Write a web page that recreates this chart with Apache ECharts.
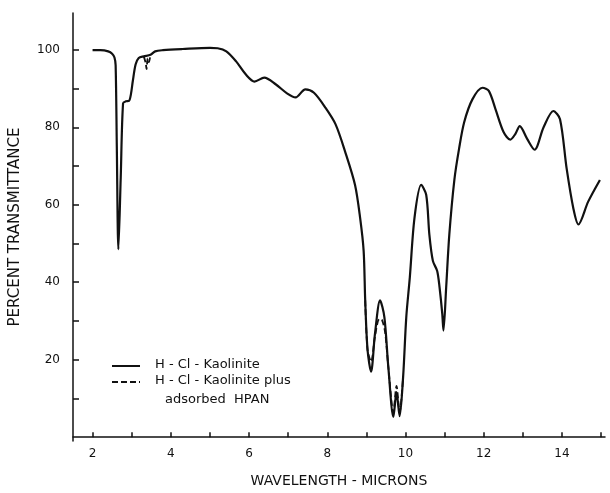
<!DOCTYPE html>
<html>
<head>
<meta charset="utf-8">
<script src="https://cdn.jsdelivr.net/npm/echarts@6/dist/echarts.min.js"></script>
<style>html,body{margin:0;padding:0;background:#fff}#c{width:610px;height:493px}</style>
</head>
<body>
<div id="c"></div>
<script>
// ---- data ----
const wavelength = [2.00,2.20,2.40,2.50,2.56,2.59,2.62,2.66,2.72,2.78,2.85,2.93,2.98,3.03,3.10,3.18,3.31,3.48,3.60,3.80,4.30,5.00,5.20,5.42,5.67,5.92,6.14,6.39,6.68,6.98,7.19,7.44,7.66,7.95,8.21,8.46,8.71,8.84,8.93,8.97,9.03,9.12,9.22,9.35,9.46,9.56,9.69,9.77,9.85,9.94,10.02,10.11,10.23,10.40,10.53,10.61,10.70,10.81,10.87,10.94,10.97,11.04,11.12,11.25,11.37,11.50,11.71,11.97,12.13,12.30,12.51,12.68,12.81,12.92,13.11,13.30,13.53,13.78,13.95,14.12,14.29,14.42,14.67,14.97];
const transmittanceKaolinite = [99.9,99.9,99.6,99.0,98.0,96.0,75.0,48.5,67.0,86.2,86.7,86.8,88.5,92.0,96.2,97.9,98.3,98.7,99.6,99.9,100.2,100.5,100.4,99.6,97.0,93.6,91.8,92.8,91.1,88.7,87.7,89.8,88.9,85.1,80.8,73.6,65.1,56.6,48.1,35.3,22.5,16.9,26.7,35.3,31.0,18.2,5.2,11.6,5.4,15.7,31.0,41.2,56.6,65.1,62.5,52.3,45.5,42.9,38.7,31.8,27.5,38.7,52.3,66.5,74.5,81.3,87.2,90.2,89.4,84.7,78.7,76.8,78.3,80.3,77.0,74.2,80.0,84.2,82.1,69.3,59.1,54.9,60.8,66.4];
// dashed curve (HPAN) where it departs from the solid one; null = gap
const wavelengthHPAN = [3.31,3.36,3.38,3.41,3.44,3.48,null,8.97,9.03,9.12,9.22,9.33,9.40,9.48,9.56,9.69,9.77,9.85,9.94];
const transmittanceHPAN = [98.3,96.5,95.0,97.8,96.8,98.7,null,35.3,22.5,19.5,26.0,30.5,30.2,27.0,18.2,6.5,13.2,6.5,15.7];
const xLabelValues = [2,4,6,8,10,12,14];
const xTickValues = [2,3,4,5,6,7,8,9,10,11,12,13,14,15];
const yLabelValues = [20,40,60,80,100];
const yTickValues = [10,20,30,40,50,60,70,80,90,100];
const xTitle = 'WAVELENGTH - MICRONS';
const yTitle = 'PERCENT TRANSMITTANCE';
const legendSolid = 'H - Cl - Kaolinite';
const legendDashed1 = 'H - Cl - Kaolinite plus';
const legendDashed2 = 'adsorbed  HPAN';

const solidData = wavelength.map((x, i) => [x, transmittanceKaolinite[i]]);
const dashedData = wavelengthHPAN.map((x, i) => x === null ? ['-', '-'] : [x, transmittanceHPAN[i]]);

const ink = '#111';
const fam = 'DejaVu Sans';
const chart = echarts.init(document.getElementById('c'), null, {renderer: 'canvas'});
chart.setOption({
  animation: false,
  backgroundColor: '#fff',
  grid: {left: 69, right: 5, top: 13, bottom: 47},
  xAxis: {
    type: 'value', min: 1.5, max: 15.1,
    name: xTitle, nameLocation: 'middle', nameGap: 33,
    nameTextStyle: {fontFamily: fam, fontSize: 14, color: ink},
    axisLine: {show: true, lineStyle: {color: ink, width: 1.5}},
    axisTick: {show: true, inside: true, length: 5, customValues: xTickValues, lineStyle: {color: ink, width: 1.5}},
    axisLabel: {customValues: xLabelValues, fontFamily: fam, fontSize: 12, color: ink, margin: 7},
    splitLine: {show: false}
  },
  yAxis: {
    type: 'value', min: -1, max: 109.5,
    name: yTitle, nameLocation: 'middle', nameGap: 50, nameRotate: 90,
    nameTextStyle: {fontFamily: fam, fontSize: 15, color: ink},
    axisLine: {show: true, lineStyle: {color: ink, width: 1.5}},
    axisTick: {show: true, inside: true, length: 6, customValues: yTickValues, lineStyle: {color: ink, width: 1.5}},
    axisLabel: {customValues: yLabelValues, fontFamily: fam, fontSize: 12, color: ink, margin: 13},
    splitLine: {show: false}
  },
  series: [
    {type: 'line', data: solidData, showSymbol: false, smooth: 0.3,
     lineStyle: {color: ink, width: 2.2}, z: 2},
    {type: 'line', data: dashedData, showSymbol: false, smooth: 0.3, connectNulls: false,
     lineStyle: {color: ink, width: 1.8, type: [6, 3]}, z: 3}
  ],
  graphic: [
    {type: 'line', shape: {x1: 112, y1: 366, x2: 140, y2: 366}, style: {stroke: ink, lineWidth: 2}},
    {type: 'text', left: 155, top: 358, style: {text: legendSolid, font: '13px "DejaVu Sans"', fill: ink}},
    {type: 'line', shape: {x1: 112, y1: 382, x2: 140, y2: 382}, style: {stroke: ink, lineWidth: 2, lineDash: [6, 3]}},
    {type: 'text', left: 155, top: 374, style: {text: legendDashed1, font: '13px "DejaVu Sans"', fill: ink}},
    {type: 'text', left: 165, top: 393, style: {text: legendDashed2, font: '13px "DejaVu Sans"', fill: ink}}
  ]
});
</script>
</body>
</html>
